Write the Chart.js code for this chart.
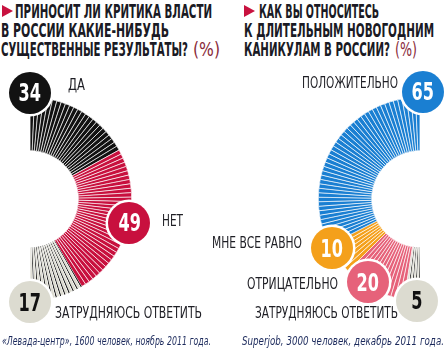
<!DOCTYPE html>
<html><head><meta charset="utf-8">
<script src="https://cdn.jsdelivr.net/npm/chart.js@4.4.1/dist/chart.umd.min.js"></script>
<style>
html,body{margin:0;padding:0;background:#fff;}
body{width:445px;height:355px;position:relative;overflow:hidden;font-family:"Liberation Sans Narrow","Arial Narrow","DejaVu Sans Condensed",Roboto,sans-serif;font-stretch:condensed;}
.t{position:absolute;white-space:nowrap;line-height:1;transform-origin:0 0;}
.title{font-weight:700;font-size:20px;color:#1a1a24;}
.pct{font-weight:400;color:#8a2b3a;}
.lab{font-size:15px;color:#1e1e24;}
.note{font-style:italic;font-size:12px;color:#1c2a5c;}
.tri{position:absolute;width:0;height:0;border-left:11px solid #c8123f;border-top:6px solid transparent;border-bottom:6px solid transparent;}
canvas{position:absolute;}
.bub{position:absolute;width:42px;height:42px;margin:-21px 0 0 -21px;border-radius:50%;box-shadow:0 0 0 2.5px #fff;display:flex;align-items:center;justify-content:center;font-weight:700;font-size:25px;line-height:1;}
.bub span{display:inline-block;transform-origin:50% 50%;white-space:nowrap;}
</style></head>
<body>
<div class="tri" style="left:2px;top:5px"></div>
<div class="t title" style="left:15px;top:0.7px" data-w="197">ПРИНОСИТ ЛИ КРИТИКА ВЛАСТИ</div>
<div class="t title" style="left:1px;top:20.2px" data-w="168">В РОССИИ КАКИЕ-НИБУДЬ</div>
<div class="t title" style="left:1px;top:38.7px" data-w="187">СУЩЕСТВЕННЫЕ РЕЗУЛЬТАТЫ?</div>
<div class="t title pct" style="left:193px;top:38.7px" data-w="27">(%)</div>

<div class="tri" style="left:244px;top:5px"></div>
<div class="t title" style="left:259px;top:0.7px" data-w="120">КАК ВЫ ОТНОСИТЕСЬ</div>
<div class="t title" style="left:244px;top:20.2px" data-w="190">К ДЛИТЕЛЬНЫМ НОВОГОДНИМ</div>
<div class="t title" style="left:244px;top:38.7px" data-w="146">КАНИКУЛАМ В РОССИИ?</div>
<div class="t title pct" style="left:395px;top:38.7px" data-w="22">(%)</div>

<canvas id="c1" width="102" height="206" style="left:30px;top:96px"></canvas>
<canvas id="c2" width="102" height="206" style="left:318px;top:96px"></canvas>

<div id="bubbles"></div>
<div id="labels"></div>

<div class="t note" style="left:2px;top:334.5px" data-w="209">«Левада-центр», 1600 человек, ноябрь 2011 года.</div>
<div class="t note" style="left:242px;top:334.5px" data-w="202">Superjob, 3000 человек, декабрь 2011 года.</div>

<script>
// ---- data ----
const leftCategories = ['ДА', 'НЕТ', 'ЗАТРУДНЯЮСЬ ОТВЕТИТЬ'];
const leftValues = [34, 49, 17];
const rightCategories = ['ПОЛОЖИТЕЛЬНО', 'МНЕ ВСЕ РАВНО', 'ОТРИЦАТЕЛЬНО', 'ЗАТРУДНЯЮСЬ ОТВЕТИТЬ'];
const rightValues = [65, 10, 20, 5];

// ---- styles ----
const leftColors = ['#121212', '#c8103e', '#dcdbd0'];
const rightColors = ['#1a7fd2', '#f4a01b', '#e6627a', '#dcdbd0'];
const leftText = ['#fff', '#fff', '#111'];
const rightText = ['#fff', '#fff', '#fff', '#111'];
const lineColor = '#1a1a1a';
const barUnit = 1.4;          // percentage points per radial bar
const gap = 0.4;              // white gap half-width between bars
const hatchedLeft = 2, hatchedRight = 3;

// label placement: x (left edge), cap top, width
const leftLabelPos = [[68, 80, 17], [162, 216, 21], [55, 308, 147]];
const rightLabelPos = [[302, 78, 96], [212, 238, 90], [247, 279, 91], [255, 307.5, 143]];
// bubble anchor along segment (fraction) and radial factor
const leftAnchor = [[0, 1.04], [0.48, 1.0], [1, 1.01]];
const rightAnchor = [[-0.013, 1.05], [0.12, 0.99], [0.36, 0.96], [0.8, 1.0]];

function buildSlices(values, colors, hatchIdx) {
  const data = [], bg = [], bw = [];
  values.forEach((v, i) => {
    const n = Math.max(1, Math.round(v / barUnit));
    for (let k = 0; k < n; k++) {
      if (i === hatchIdx) {
        data.push(v / n * 0.3); bg.push(lineColor); bw.push(0);
        data.push(v / n * 0.7); bg.push(colors[i]); bw.push(gap);
      } else {
        data.push(v / n); bg.push(colors[i]); bw.push(gap);
      }
    }
  });
  return {data, bg, bw};
}

function makeChart(id, slices, rotation) {
  return new Chart(document.getElementById(id), {
    type: 'doughnut',
    data: {
      labels: slices.data.map((_, i) => String(i)),
      datasets: [{
        data: slices.data,
        backgroundColor: slices.bg,
        borderColor: '#ffffff',
        borderWidth: slices.bw,
        borderAlign: 'inner',
        hoverOffset: 0,
        offset: 0
      }]
    },
    options: {
      responsive: false,
      animation: false,
      events: [],
      rotation: rotation,
      circumference: 180,
      radius: 102,
      cutout: '47%',
      layout: {padding: 0},
      plugins: {legend: {display: false}, tooltip: {enabled: false}}
    }
  });
}

const s1 = buildSlices(leftValues, leftColors, hatchedLeft);
const chart1 = makeChart('c1', s1, 0);

// right chart runs counter-clockwise from the top: feed it reversed, starting at the bottom
const rv = rightValues.slice().reverse();
const rc = rightColors.slice().reverse();
const s2 = buildSlices(rv, rc, rv.length - 1 - hatchedRight);
const chart2 = makeChart('c2', s2, 180);

function addBubbles(chart, canvasId, values, colors, textColors, anchors, dir) {
  const cv = document.getElementById(canvasId);
  const ox = parseFloat(cv.style.left), oy = parseFloat(cv.style.top);
  const el = chart.getDatasetMeta(0).data[0];
  const cx = el.x, cy = el.y, R = el.outerRadius;
  const total = values.reduce((a, b) => a + b, 0);
  let before = 0;
  values.forEach((v, i) => {
    const f = (before + anchors[i][0] * v) / total;
    const ang = -Math.PI / 2 + dir * f * Math.PI;
    const r = R * anchors[i][1];
    const b = document.createElement('div');
    b.className = 'bub';
    b.style.left = (ox + cx + r * Math.cos(ang)) + 'px';
    b.style.top = (oy + cy + r * Math.sin(ang)) + 'px';
    b.style.background = colors[i];
    b.style.color = textColors[i];
    const sp = document.createElement('span');
    sp.textContent = String(v);
    sp.dataset.w = String(11.2 * String(v).length);
    b.appendChild(sp);
    document.getElementById('bubbles').appendChild(b);
    before += v;
  });
}
addBubbles(chart1, 'c1', leftValues, leftColors, leftText, leftAnchor, 1);
addBubbles(chart2, 'c2', rightValues, rightColors, rightText, rightAnchor, -1);

function addLabels(cats, pos) {
  cats.forEach((c, i) => {
    const d = document.createElement('div');
    d.className = 't lab';
    d.textContent = c;
    d.style.left = pos[i][0] + 'px';
    d.style.top = (pos[i][1] - 1.8) + 'px';
    d.dataset.w = pos[i][2];
    document.getElementById('labels').appendChild(d);
  });
}
addLabels(leftCategories, leftLabelPos);
addLabels(rightCategories, rightLabelPos);

function fit() {
  document.querySelectorAll('[data-w]').forEach(el => {
    el.style.transform = 'none';
    const w = el.getBoundingClientRect().width;
    if (w > 0) el.style.transform = 'scaleX(' + (parseFloat(el.dataset.w) / w) + ')';
  });
}
fit();
if (document.fonts && document.fonts.ready) document.fonts.ready.then(fit);
</script>
</body></html>
